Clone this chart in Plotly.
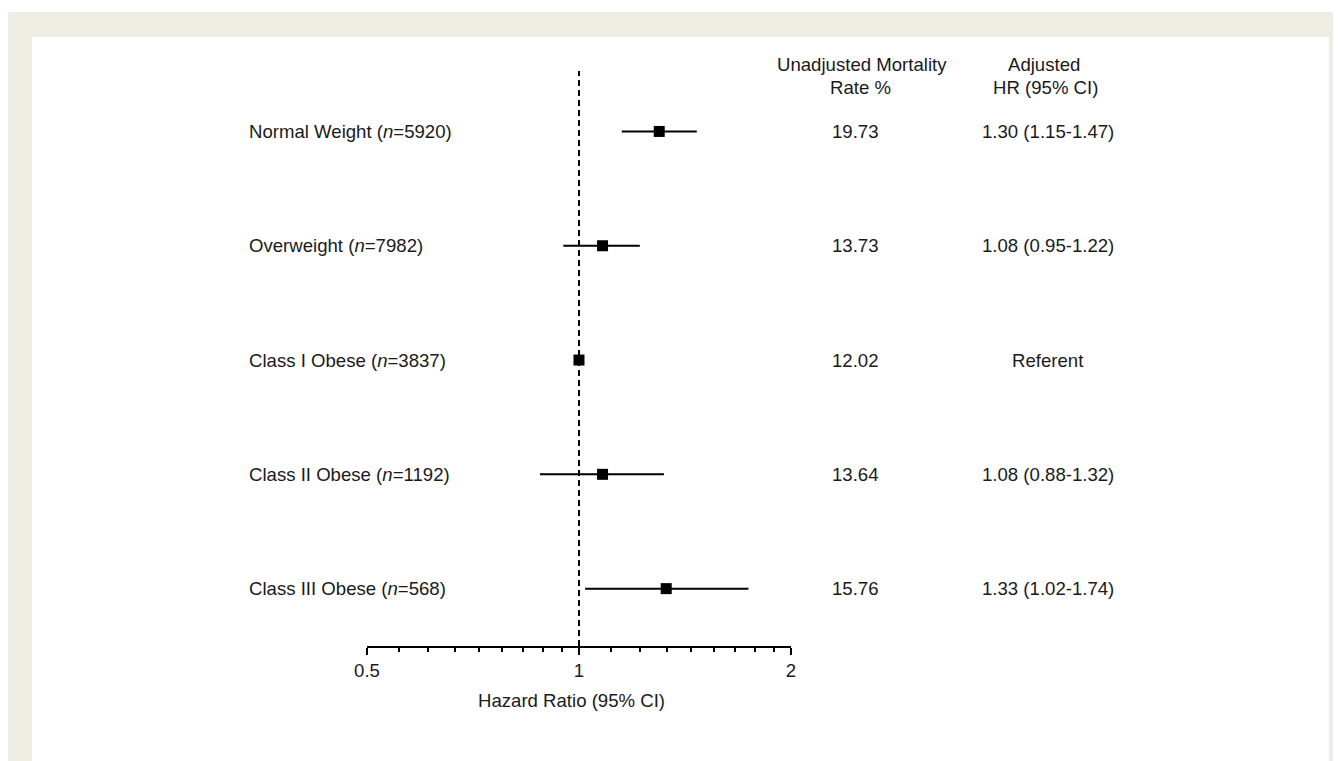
import plotly.graph_objects as go

# ---- data ----
groups = ["Normal Weight", "Overweight", "Class I Obese", "Class II Obese", "Class III Obese"]
group_n = [5920, 7982, 3837, 1192, 568]
hr = [1.30, 1.08, 1.00, 1.08, 1.33]
ci_low = [1.15, 0.95, 1.00, 0.88, 1.02]
ci_high = [1.47, 1.22, 1.00, 1.32, 1.74]
mortality_rate = ["19.73", "13.73", "12.02", "13.64", "15.76"]
hr_text = ["1.30 (1.15-1.47)", "1.08 (0.95-1.22)", "Referent", "1.08 (0.88-1.32)", "1.33 (1.02-1.74)"]
major_ticks = [0.5, 1, 2]
major_tick_text = ["0.5", "1", "2"]
minor_ticks = [0.5 + k * 0.5 / 9 for k in range(1, 9)] + [1 + k / 9 for k in range(1, 9)]

OFF = 8  # page body margin
W, H = 1341 - OFF, 761 - OFF
ML, MT = 367 - OFF, 71 - OFF
PW, PH = 424, 575
MR = W - ML - PW
MB = H - MT - PH

def px_x(p):
    return (p - OFF - ML) / PW

def px_y(p):
    return (H - MB - (p - OFF)) / PH

FONT = "Liberation Sans, Arial, sans-serif"
FS = 18.6
TXT = "#1a1a1a"
BEIGE = "#efede3"

rows = list(range(len(groups)))

fig = go.Figure()
fig.add_trace(go.Scatter(
    x=hr, y=rows, mode="markers",
    marker=dict(symbol="square", size=11, color="black", line=dict(width=0)),
    error_x=dict(type="data", symmetric=False,
                 array=[h - m for h, m in zip(ci_high, hr)],
                 arrayminus=[m - l for m, l in zip(hr, ci_low)],
                 thickness=2, width=0, color="black"),
    showlegend=False, hoverinfo="skip",
))

shapes = [
    dict(type="rect", xref="paper", yref="paper", x0=px_x(0), x1=px_x(1350),
         y0=px_y(775), y1=px_y(12), fillcolor=BEIGE, line=dict(width=0), layer="below"),
    dict(type="rect", xref="paper", yref="paper", x0=px_x(32), x1=px_x(1329),
         y0=px_y(775), y1=px_y(37), fillcolor="white", line=dict(width=0), layer="below"),
    dict(type="line", xref="x", yref="paper", x0=1, x1=1, y0=0, y1=1,
         line=dict(color="black", width=2, dash="6px,4px")),
]

annotations = []
for i, (g, n) in enumerate(zip(groups, group_n)):
    annotations.append(dict(x=px_x(247), xref="paper", y=i, yref="y",
                            text=f"{g} (<i>n</i>={n})", showarrow=False,
                            xanchor="left", yanchor="middle",
                            font=dict(family=FONT, size=FS, color=TXT)))
    annotations.append(dict(x=px_x(855), xref="paper", y=i, yref="y",
                            text=mortality_rate[i], showarrow=False,
                            xanchor="center", yanchor="middle",
                            font=dict(family=FONT, size=FS, color=TXT)))
    annotations.append(dict(x=px_x(1048), xref="paper", y=i, yref="y",
                            text=hr_text[i], showarrow=False,
                            xanchor="center", yanchor="middle",
                            font=dict(family=FONT, size=FS, color=TXT)))

headers = [("Unadjusted Mortality", 862, 65), ("Rate %", 860, 87),
           ("Adjusted", 1044, 65), ("HR (95% CI)", 1045, 87)]
for t, xp, yp in headers:
    annotations.append(dict(x=px_x(xp), xref="paper", y=px_y(yp), yref="paper",
                            text=t, showarrow=False, xanchor="center", yanchor="middle",
                            font=dict(family=FONT, size=FS, color=TXT)))

annotations.append(dict(x=px_x(571), xref="paper", y=px_y(700), yref="paper",
                        text="Hazard Ratio (95% CI)", showarrow=False,
                        xanchor="center", yanchor="middle",
                        font=dict(family=FONT, size=FS, color=TXT)))

fig.update_layout(
    width=W, height=H,
    margin=dict(l=ML, r=MR, t=MT, b=MB, pad=0),
    paper_bgcolor="white", plot_bgcolor="white",
    shapes=shapes, annotations=annotations,
    xaxis=dict(type="log", range=[-0.30103, 0.30103],
               tickmode="array", tickvals=major_ticks, ticktext=major_tick_text,
               ticks="outside", ticklen=7, tickwidth=1.5, tickcolor="black",
               showline=True, linecolor="black", linewidth=1.5,
               showgrid=False, zeroline=False,
               tickfont=dict(family=FONT, size=FS, color=TXT),
               minor=dict(tickmode="array", tickvals=minor_ticks, ticks="outside",
                          ticklen=4, tickwidth=1.5, tickcolor="black", showgrid=False)),
    yaxis=dict(range=[4.502, -0.529], visible=False, showgrid=False, zeroline=False),
)

fig.write_html("out.html")
